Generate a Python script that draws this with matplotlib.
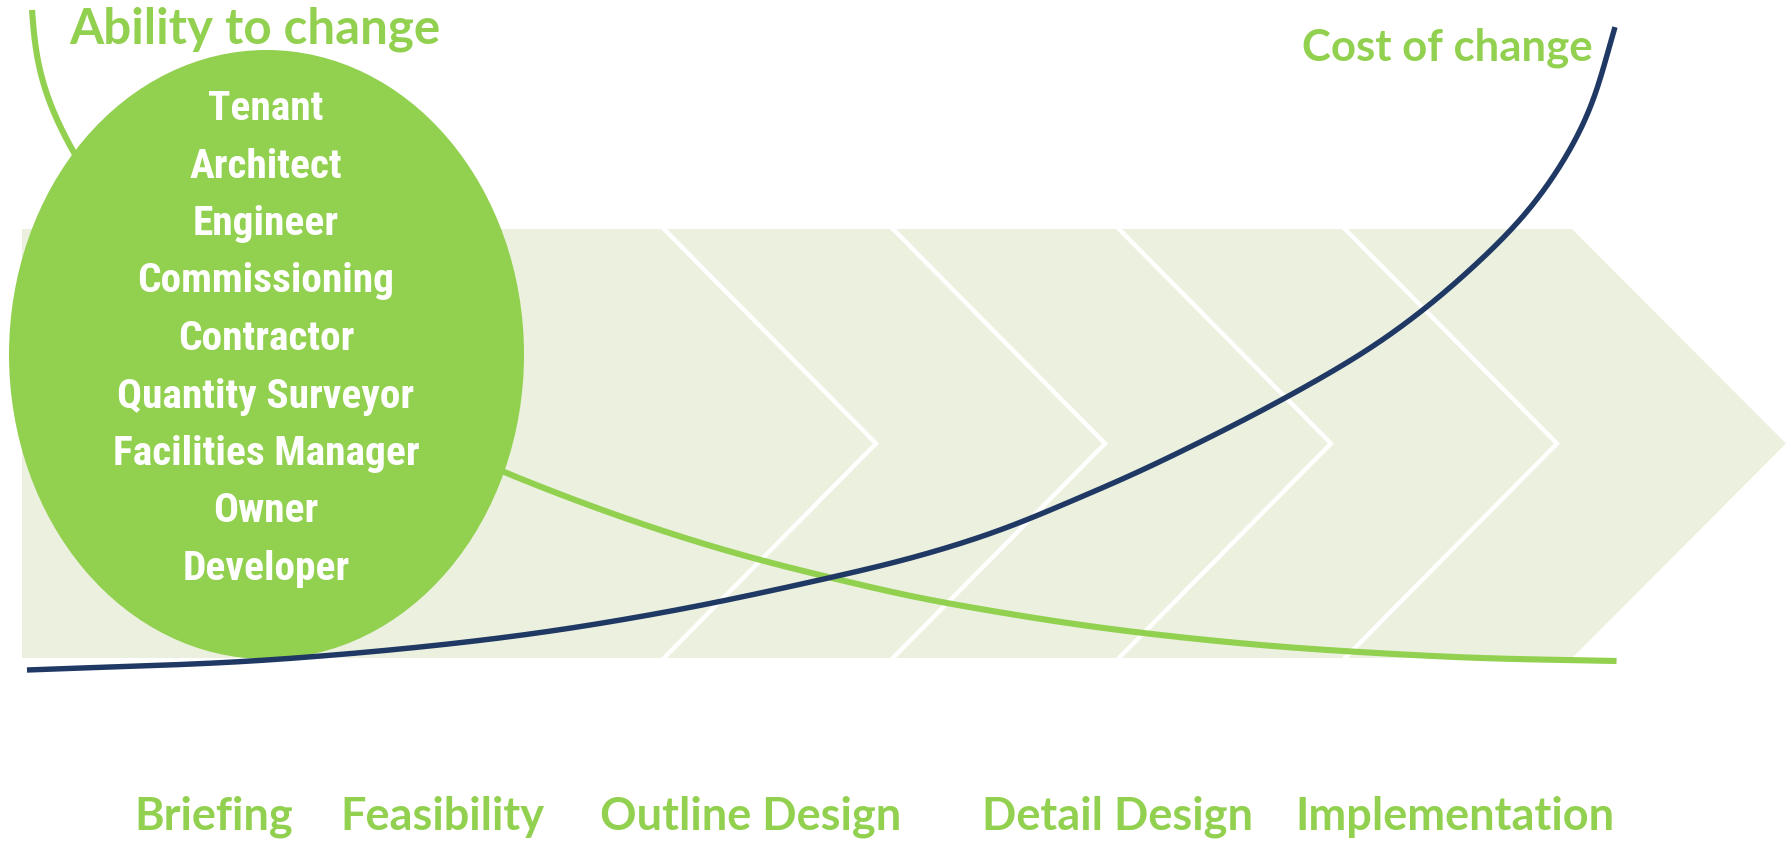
import matplotlib
matplotlib.use("Agg")
import matplotlib.pyplot as plt
from matplotlib.patches import Ellipse, Polygon
from matplotlib import font_manager
import numpy as np

# everything is in pixel units of the 1791x841 picture (y grows downwards)
W, H = 1791, 841

green = "#92D050"
navy = "#1F3864"
band = "#EBF1DE"

# chevron band
band_top, band_bot, band_left = 229, 658, 22
sep_x = [662, 891, 1117, 1343]      # top x of each white separator
last_x = 1572                        # top x of the last chevron's nose
depth = 214

# "ability to change" curve (part under the ellipse is hidden)
abil_x = [32, 34, 39, 48, 60, 73, 150, 300, 420, 504, 583, 666, 749, 832, 915, 998, 1081,
          1169, 1272, 1376, 1479, 1617]
abil_y = [10, 40, 70, 100, 127, 152, 260, 370, 435, 472, 503, 532, 557, 578, 597, 612, 625,
          636, 646, 653, 658, 661]

# "cost of change" curve
cost_x = [27, 268, 500, 666, 824, 915, 998, 1081, 1151, 1287, 1387, 1470, 1537, 1587, 1615]
cost_y = [670, 660, 638, 612, 579, 557, 531, 497, 466, 397, 337, 270, 200, 117, 27]

roles = ["Tenant", "Architect", "Engineer", "Commissioning", "Contractor",
         "Quantity Surveyor", "Facilities Manager", "Owner", "Developer"]
stages = ["Briefing", "Feasibility", "Outline Design", "Detail Design", "Implementation"]
stage_x = [214, 442, 751, 1118, 1455]


def smooth(xs, ys, n=30, sigma=22):
    # centripetal catmull-rom through the read points ...
    P = np.column_stack([xs, ys]).astype(float)
    P = np.vstack([2 * P[0] - P[1], P, 2 * P[-1] - P[-2]])
    out = []
    for i in range(1, len(P) - 2):
        p0, p1, p2, p3 = P[i - 1:i + 3]
        t0 = 0.0
        t1 = t0 + np.linalg.norm(p1 - p0) ** 0.5
        t2 = t1 + np.linalg.norm(p2 - p1) ** 0.5
        t3 = t2 + np.linalg.norm(p3 - p2) ** 0.5
        t = np.linspace(t1, t2, n, endpoint=False)[:, None]
        a1 = (t1 - t) / (t1 - t0) * p0 + (t - t0) / (t1 - t0) * p1
        a2 = (t2 - t) / (t2 - t1) * p1 + (t - t1) / (t2 - t1) * p2
        a3 = (t3 - t) / (t3 - t2) * p2 + (t - t2) / (t3 - t2) * p3
        b1 = (t2 - t) / (t2 - t0) * a1 + (t - t0) / (t2 - t0) * a2
        b2 = (t3 - t) / (t3 - t1) * a2 + (t - t1) / (t3 - t1) * a3
        out.append((t2 - t) / (t2 - t1) * b1 + (t - t1) / (t2 - t1) * b2)
    out.append(P[-2][None])
    c = np.vstack(out)
    # ... then iron out the small wobbles from reading the points by eye
    d = np.r_[0, np.cumsum(np.hypot(*np.diff(c, axis=0).T))]
    s = np.arange(0, d[-1], 1.0)
    k = int(3 * sigma)
    g = np.exp(-0.5 * (np.arange(-k, k + 1) / sigma) ** 2)
    g /= g.sum()

    def blur(v):
        pad = np.r_[2 * v[0] - v[k:0:-1], v, 2 * v[-1] - v[-2:-k - 2:-1]]
        return np.convolve(pad, g, mode="valid")

    return blur(np.interp(s, d, c[:, 0])), blur(np.interp(s, d, c[:, 1]))


names = {f.name for f in font_manager.fontManager.ttflist}
narrow = [f for f in ["Liberation Sans Narrow", "DejaVu Sans Condensed", "Roboto Condensed",
                      "Open Sans Condensed"] if f in names] + ["DejaVu Sans"]

fig = plt.figure(figsize=(W / 100, H / 100), dpi=100)
ax = fig.add_axes([0, 0, 1, 1])
ax.set_xlim(0, W)
ax.set_ylim(H, 0)
ax.axis("off")

mid = (band_top + band_bot) / 2
ax.add_patch(Polygon([(band_left, band_top), (last_x, band_top), (last_x + depth, mid),
                      (last_x, band_bot), (band_left, band_bot)],
                     closed=True, facecolor=band, edgecolor="none", zorder=1))
for s in sep_x:
    ax.plot([s, s + depth, s], [band_top - 2, mid, band_bot + 2], color="white", lw=3.2,
            solid_joinstyle="miter", zorder=2)

ax.plot(*smooth(abil_x, abil_y), color=green, lw=4.4, solid_capstyle="butt", zorder=3)
ax.add_patch(Ellipse((266.5, 354.5), 515, 609, facecolor=green, edgecolor="none", zorder=4))
ax.plot(*smooth(cost_x, cost_y), color=navy, lw=3.9, solid_capstyle="butt", zorder=5)

role_txt = []
for i, r in enumerate(roles):
    role_txt.append(ax.text(266, 120 + i * 57.5, r, color="white", fontsize=30, fontweight="bold",
                            family=narrow, fontstretch="condensed",
                            ha="center", va="baseline", zorder=6))
# size the role names so the widest line is as wide as in the picture
rend = fig.canvas.get_renderer()
w = role_txt[5].get_window_extent(rend).width
for t in role_txt:
    t.set_fontsize(30 * 297 / w)

head = ["Lato", "DejaVu Sans"]
ax.text(69, 43, "Ability to change", color=green, fontsize=35.5, fontweight="bold",
        family=head, ha="left", va="baseline", zorder=6)
ax.text(1302, 60, "Cost of change", color=green, fontsize=31.5, fontweight="bold",
        family=head, ha="left", va="baseline", zorder=6)
for x, s in zip(stage_x, stages):
    ax.text(x, 830, s, color=green, fontsize=32.5, fontweight="bold",
            family=head, ha="center", va="baseline", zorder=6)

fig.savefig("out.png", dpi=100)
